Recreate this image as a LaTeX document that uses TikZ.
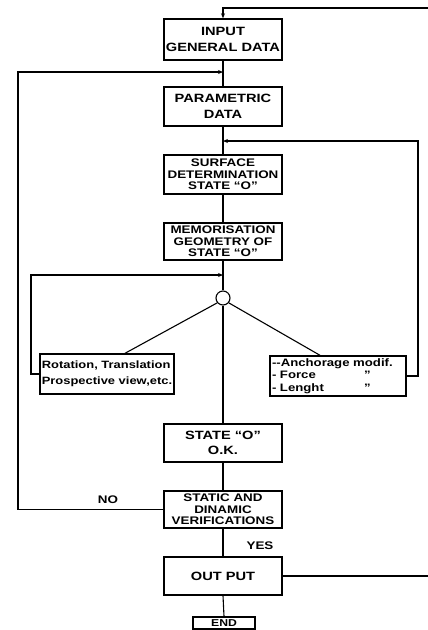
\documentclass[tikz,border=0pt]{standalone}
\usepackage{fontspec}
\newfontfamily\flowfont[FakeStretch=1.22]{Liberation Sans}
\usetikzlibrary{arrows.meta}
\begin{document}
\begin{tikzpicture}[x=1pt,y=-1pt,
  box/.style={draw, line width=1.4pt, minimum width=118pt, inner sep=0pt, align=center},
  twoline/.style={font=\flowfont\bfseries\fontsize{12}{15.5}\selectfont},
  threeline/.style={font=\flowfont\bfseries\fontsize{11}{11.5}\selectfont},
  conn/.style={line width=1.1pt},
  arr/.style={conn,-{Stealth[length=5pt,width=4pt]}},
  lbl/.style={font=\flowfont\bfseries\fontsize{11}{12}\selectfont}]
\useasboundingbox (0,0) rectangle (428,630);
% main column
\node[box,twoline,minimum height=41pt] (input) at (223,39.5) {INPUT\\GENERAL DATA};
\node[box,twoline,minimum height=39pt] (param) at (223,106.5) {PARAMETRIC\\DATA};
\node[box,threeline,minimum height=39pt] (surf) at (223,174.5) {SURFACE\\DETERMINATION\\STATE “O”};
\node[box,threeline,minimum height=37pt] (memo) at (223,241.5) {MEMORISATION\\GEOMETRY OF\\STATE “O”};
\node[circle,draw,line width=1.1pt,minimum size=14pt,inner sep=0pt] (circ) at (223,298) {};
\node[box,minimum width=134pt,minimum height=40pt,align=left,
      font=\flowfont\bfseries\fontsize{10.6}{16}\selectfont] (lbox) at (107,374)
      {Rotation, Translation\\Prospective view,etc.};
\node[box,minimum width=136pt,minimum height=40pt,align=left,text width=132pt,
      font=\flowfont\bfseries\fontsize{10.8}{12.5}\selectfont] (rbox) at (338,376)
      {--Anchorage modif.\\\makebox[92pt][l]{- Force}”\\\makebox[92pt][l]{- Lenght}”};
\node[box,twoline,minimum height=38pt] (state) at (223,443) {STATE “O”\\O.K.};
\node[box,threeline,minimum height=37pt] (static) at (223,509.5) {STATIC AND\\DINAMIC\\VERIFICATIONS};
\node[box,twoline,minimum height=38pt] (output) at (223,576) {OUT PUT};
\node[draw,line width=1.4pt,minimum width=62pt,minimum height=12pt,inner sep=0pt,
      font=\flowfont\bfseries\fontsize{10}{10}\selectfont] (end) at (224,623) {END};
% labels
\node[lbl] (no) at (108,500) {NO};
\node[lbl] (yes) at (260,546) {YES};
% free-end coordinates
\coordinate (TR) at (428,8);
\coordinate (TJ) at (223,8);
\coordinate (L1) at (18,72);
\coordinate (J1) at (223,72);
\coordinate (R1) at (418,141);
\coordinate (J2) at (223,141);
\coordinate (L2) at (31,275);
\coordinate (J3) at (223,275);
\coordinate (OR) at (428,576);
% connectors
\draw[arr] (TR) -- (TJ) -- (input.north);
\draw[conn] (input.south) -- (param.north);
\draw[conn] (param.south) -- (surf.north);
\draw[conn] (surf.south) -- (memo.north);
\draw[conn] (memo.south) -- (circ.north);
\draw[conn] (circ.south) -- (state.north);
\draw[conn] (circ.220) -- ([xshift=18pt]lbox.north);
\draw[conn] (circ.320) -- ([xshift=-18pt]rbox.north);
\draw[conn] (state.south) -- (static.north);
\draw[conn] (static.south) -- (output.north);
\draw[conn] (output.south) -- (end.north);
\draw[conn] (output.east) -- (OR);
\draw[arr] (static.west) -- (static.west -| L1) -- (L1) -- (J1);
\draw[arr] (rbox.east) -- (rbox.east -| R1) -- (R1) -- (J2);
\draw[arr] (lbox.west) -- (lbox.west -| L2) -- (L2) -- (J3);
\end{tikzpicture}
\end{document}
